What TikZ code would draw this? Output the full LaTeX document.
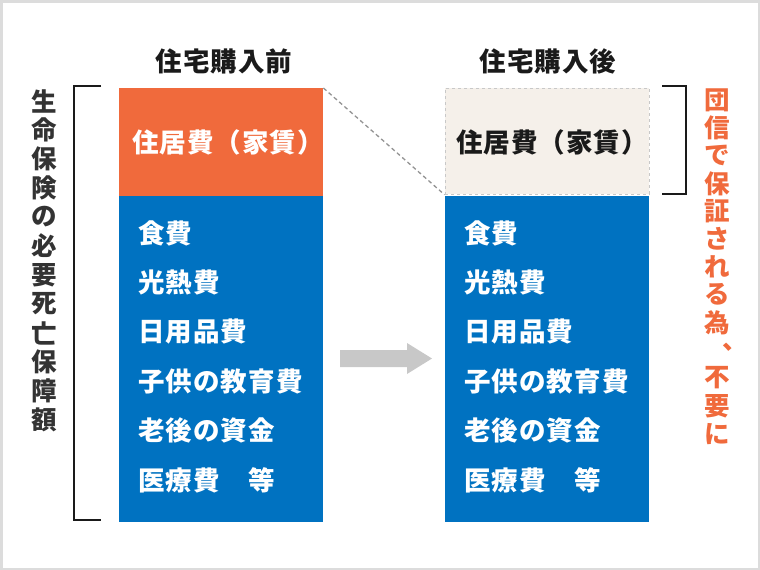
\documentclass[tikz,border=0pt]{standalone}
\usepackage{fontspec}
\newfontfamily\jp{Noto Sans CJK JP}[LetterSpace=4]
\newfontfamily\jpv{Noto Sans CJK JP}
\definecolor{frameg}{HTML}{DCDCDC}
\definecolor{orng}{HTML}{F06A3C}
\definecolor{blu}{HTML}{0072C1}
\definecolor{cream}{HTML}{F5F0EA}
\definecolor{dgray}{HTML}{333333}
\definecolor{agray}{HTML}{C8C8C8}
\definecolor{ink}{HTML}{1A1A1A}
\tikzset{
  colbox/.style={anchor=north west, inner sep=0pt, minimum width=204pt},
  item/.style={anchor=west, inner sep=0pt, text=white, font=\jp\bfseries\fontsize{26.5}{29}\selectfont},
  title/.style={inner sep=0pt, text=ink, font=\jp\bfseries\fontsize{26.5}{29}\selectfont},
  vchar/.style={inner sep=0pt, font=\jpv\bfseries\fontsize{25.5}{28}\selectfont},
  bracket/.style={line width=2pt, draw=ink},
}
\begin{document}
\begin{tikzpicture}[x=1pt,y=-1pt]
\useasboundingbox (0,0) rectangle (760,570);
\draw[line width=2.5pt, frameg] (1.25,1.25) rectangle (758.75,568.75);
% left column
\node[colbox, fill=orng, minimum height=108pt] (oL) at (119,88) {};
\node[colbox, fill=blu, minimum height=326pt] (bL) at (119,196) {};
% right column
\node[colbox, fill=cream, draw=agray, dashed, line width=1.2pt, minimum height=106pt] (oR) at (444.5,87.5) {};
\node[colbox, fill=blu, minimum height=326pt] (bR) at (445,196) {};
% dashed connector
\draw[line width=1.3pt, draw=gray!85, dash pattern=on 4pt off 3pt] (oL.north east) -- (oR.south west);
% titles
\node[title] (tL) at (224,61) {住宅購入前};
\node[title] (tR) at (548,61) {住宅購入後};
% housing cost
\node[title, text=white] (hL) at (228,142) {住居費（家賃）};
\node[title] (hR) at (552,142) {住居費（家賃）};
% items
\foreach \t [count=\i from 0] in {食費,光熱費,日用品費,子供の教育費,老後の資金,医療費　等}{
  \node[item] (iL\i) at (138,233+49.4*\i) {\t};
  \node[item] (iR\i) at (464,233+49.4*\i) {\t};
}
% arrow
\fill[agray] (340,350) -- (407,350) -- (407,343) -- (432,358.5) -- (407,374) -- (407,367) -- (340,367) -- cycle;
% brackets
\draw[bracket] (101,86) -- (74,86) -- (74,520) -- (101,520);
\draw[bracket] (662,86) -- (686,86) -- (686,193.5) -- (662,193.5);
% vertical texts
\foreach \c [count=\i from 0] in {生,命,保,険,の,必,要,死,亡,保,障,額}{
  \node[vchar, text=dgray] (vl\i) at (44,101+29*\i) {\c};
}
\foreach \c [count=\i from 0] in {団,信,で,保,証,さ,れ,る,為,、,不,要,に}{
  \ifnum\i=9
    \node[vchar, text=orng] (vr\i) at (735,347) {\c};
  \else
    \node[vchar, text=orng] (vr\i) at (717,100+27.8*\i) {\c};
  \fi
}
\end{tikzpicture}
\end{document}
